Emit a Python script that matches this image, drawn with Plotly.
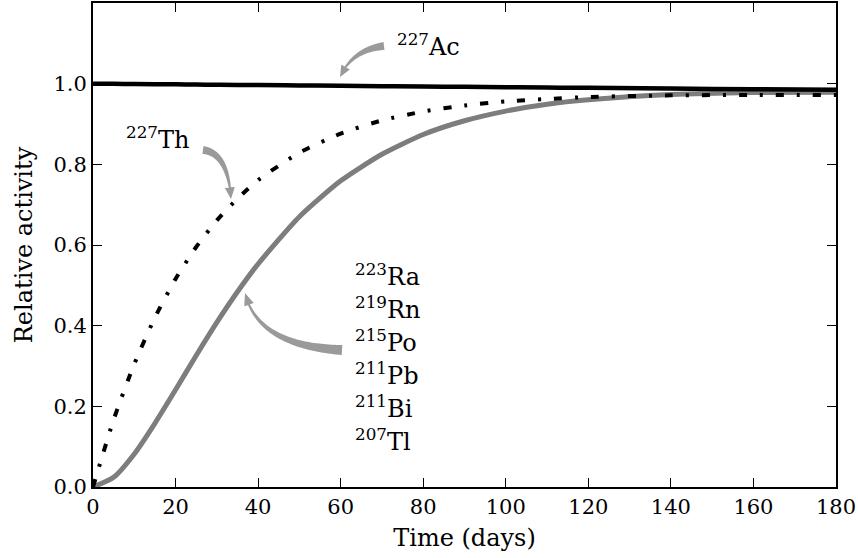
import plotly.graph_objects as go

# ---- data ----
time_days = [0, 5, 10, 15, 20, 25, 30, 35, 40, 50, 60, 70, 80, 90, 100, 110, 120, 140, 160, 180]
ac227 = [1.000, 0.9996, 0.9991, 0.9987, 0.9983, 0.9978, 0.9974, 0.9970, 0.9965, 0.9956, 0.9948,
         0.9939, 0.9930, 0.9922, 0.9913, 0.9904, 0.9896, 0.9879, 0.9862, 0.9850]
th227 = [0.000, 0.167, 0.305, 0.420, 0.516, 0.595, 0.661, 0.715, 0.761, 0.829, 0.876,
         0.909, 0.931, 0.946, 0.956, 0.962, 0.967, 0.971, 0.972, 0.972]
ra223_chain = [0.000, 0.024, 0.082, 0.158, 0.241, 0.326, 0.408, 0.484, 0.553, 0.670, 0.759,
               0.825, 0.874, 0.908, 0.932, 0.949, 0.960, 0.973, 0.978, 0.979]

x_ticks = [0, 20, 40, 60, 80, 100, 120, 140, 160, 180]
y_ticks = [0.0, 0.2, 0.4, 0.6, 0.8, 1.0]
y_tick_labels = ["0.0", "0.2", "0.4", "0.6", "0.8", "1.0"]

chain_labels = ["<sup>223</sup>Ra", "<sup>219</sup>Rn", "<sup>215</sup>Po",
                "<sup>211</sup>Pb", "<sup>211</sup>Bi", "<sup>207</sup>Tl"]

# ---- layout geometry ----
W, H = 858, 558
ML, MR, MT, MB = 93, 22, 3, 71
PW, PH = W - ML - MR, H - MT - MB
XR = (0, 180)
YR = (0, 1.2)
FONT = "DejaVu Serif"


def px2data(px, py):
    x = XR[0] + (px - ML) / PW * (XR[1] - XR[0])
    y = YR[0] + (MT + PH - py) / PH * (YR[1] - YR[0])
    return x, y


def fancy_arrow(p0, pc, p1, w_tail=9.0, w_neck=2.0, head_len=11.0, head_w=10.0, n=60):
    import math
    pts = []
    for i in range(n + 1):
        t = i / n
        x = (1 - t) ** 2 * p0[0] + 2 * (1 - t) * t * pc[0] + t ** 2 * p1[0]
        y = (1 - t) ** 2 * p0[1] + 2 * (1 - t) * t * pc[1] + t ** 2 * p1[1]
        pts.append((x, y))
    cum = [0.0]
    for i in range(1, len(pts)):
        cum.append(cum[-1] + math.dist(pts[i], pts[i - 1]))
    L = cum[-1]
    neck_s = L - head_len
    body = [p for p, s in zip(pts, cum) if s <= neck_s]
    bs = [s for s in cum if s <= neck_s]
    left, right = [], []
    for i, (p, s) in enumerate(zip(body, bs)):
        a = body[max(i - 1, 0)]
        b = body[min(i + 1, len(body) - 1)]
        dx, dy = b[0] - a[0], b[1] - a[1]
        d = math.hypot(dx, dy) or 1
        nx, ny = -dy / d, dx / d
        w = w_tail + (w_neck - w_tail) * (s / neck_s)
        left.append((p[0] + nx * w / 2, p[1] + ny * w / 2))
        right.append((p[0] - nx * w / 2, p[1] - ny * w / 2))
    neck = body[-1]
    dx, dy = p1[0] - neck[0], p1[1] - neck[1]
    d = math.hypot(dx, dy) or 1
    nx, ny = -dy / d, dx / d
    hl = (neck[0] + nx * head_w / 2, neck[1] + ny * head_w / 2)
    hr = (neck[0] - nx * head_w / 2, neck[1] - ny * head_w / 2)
    poly = left + [hl, p1, hr] + right[::-1]
    path = ""
    for i, (x, y) in enumerate(poly):
        dxv, dyv = px2data(x, y)
        path += ("M" if i == 0 else "L") + f"{dxv:.4f},{dyv:.5f} "
    return path + "Z"


fig = go.Figure()
fig.add_trace(go.Scatter(x=time_days, y=ra223_chain, mode="lines",
                         line=dict(color="#7d7d7d", width=5, shape="spline", smoothing=0.6),
                         showlegend=False, hoverinfo="skip"))
fig.add_trace(go.Scatter(x=time_days, y=ac227, mode="lines",
                         line=dict(color="black", width=4.5, shape="spline"),
                         showlegend=False, hoverinfo="skip"))
fig.add_trace(go.Scatter(x=time_days, y=th227, mode="lines",
                         line=dict(color="black", width=4, shape="spline", smoothing=0.6,
                                   dash="8px,13px,3px,13px"),
                         showlegend=False, hoverinfo="skip"))

arrow_color = "#9a9a9a"
arrows = [
    ((384, 46), (352, 50), (340, 77), 8.0),
    ((203, 150), (228, 153), (231, 199), 8.0),
    ((342, 350), (258, 346), (245, 293), 10.0),
]
for p0, pc, p1, wt in arrows:
    fig.add_shape(type="path", path=fancy_arrow(p0, pc, p1, w_tail=wt), xref="x", yref="y",
                  fillcolor=arrow_color, line=dict(width=0), layer="above")

ann_font = dict(family=FONT, size=24, color="black")
ax_, ay_ = px2data(428, 45)
fig.add_annotation(x=ax_, y=ay_, text="<sup>227</sup>Ac", showarrow=False, font=ann_font,
                   xanchor="center", yanchor="middle")
tx_, ty_ = px2data(158, 138)
fig.add_annotation(x=tx_, y=ty_, text="<sup>227</sup>Th", showarrow=False, font=ann_font,
                   xanchor="center", yanchor="middle")
for i, lab in enumerate(chain_labels):
    lx, ly = px2data(353, 275 + 33 * i)
    fig.add_annotation(x=lx, y=ly, text=lab, showarrow=False, font=ann_font,
                       xanchor="left", yanchor="middle")

axis_common = dict(showline=True, linecolor="black", linewidth=2, mirror="ticks",
                   ticks="inside", ticklen=9, tickwidth=1, tickcolor="black",
                   showgrid=False, zeroline=False,
                   tickfont=dict(family=FONT, size=21, color="black"))

fig.update_xaxes(range=list(XR), tickvals=x_ticks, ticktext=[str(v) for v in x_ticks],
                 title=dict(text="Time (days)", font=dict(family=FONT, size=24, color="black"),
                            standoff=11),
                 automargin=False, **axis_common)
fig.update_yaxes(range=list(YR), tickvals=y_ticks, ticktext=y_tick_labels,
                 title=dict(text="Relative activity", font=dict(family=FONT, size=24, color="black"),
                            standoff=14),
                 automargin=False, **axis_common)

fig.update_layout(width=W, height=H, margin=dict(l=ML, r=MR, t=MT, b=MB),
                  paper_bgcolor="white", plot_bgcolor="white", showlegend=False)

fig.write_html("out.html", config={"displayModeBar": False},
               post_script="document.body.style.margin='0';document.body.style.overflow='hidden';")
